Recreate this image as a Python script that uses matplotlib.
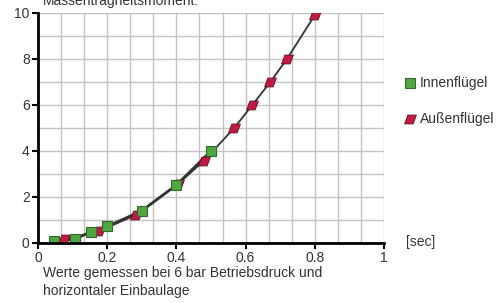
import matplotlib
matplotlib.use("Agg")
import matplotlib.pyplot as plt
import numpy as np
from matplotlib.path import Path

plt.rcParams['font.family'] = ['Liberation Sans', 'DejaVu Sans']

# data
inner_x = [0.046, 0.107, 0.153, 0.20, 0.30, 0.40, 0.50]
inner_y = [0.10, 0.17, 0.49, 0.72, 1.40, 2.52, 4.00]
outer_x = [0.075, 0.177, 0.283, 0.404, 0.48, 0.567, 0.619, 0.671, 0.72, 0.80]
outer_y = [0.16, 0.52, 1.22, 2.56, 3.58, 5.00, 5.99, 6.99, 8.01, 9.91]
x_ticks = [0, 0.2, 0.4, 0.6, 0.8, 1]
x_ticklabels = ["0", "0.2", "0.4", "0.6", "0.8", "1"]
y_ticks = [0, 2, 4, 6, 8, 10]
series_names = ["Innenflügel", "Außenflügel"]

green = "#52a641"
green_edge = "#2f6b2b"
red = "#c21a42"
red_edge = "#5a1020"
txt = "#333333"

para = Path([(-1.0, -0.75), (0.45, -0.75), (1.0, 0.75), (-0.45, 0.75), (-1.0, -0.75)],
            [Path.MOVETO, Path.LINETO, Path.LINETO, Path.LINETO, Path.CLOSEPOLY])

fig = plt.figure(figsize=(4.98, 3.03), dpi=100)
ax = fig.add_axes([38/498, 60/303, (384-38)/498, (243-13)/303])

ax.set_xlim(0, 1)
ax.set_ylim(0, 10)
ax.set_xticks(x_ticks)
ax.set_xticklabels(x_ticklabels)
ax.set_yticks(y_ticks)
ax.set_xticks(np.arange(0, 1.0001, 1/15), minor=True)
ax.set_yticks(np.arange(0, 10.001, 1), minor=True)
ax.grid(which='both', color='#c4c4c4', linewidth=1.0)
ax.set_axisbelow(True)
ax.tick_params(which='minor', length=0)
ax.tick_params(which='major', direction='out', length=4, width=1.5, color='black',
               labelsize=10, labelcolor=txt, pad=2)

for s in ['top', 'right']:
    ax.spines[s].set_visible(False)
ax.spines['left'].set_linewidth(2)
ax.spines['bottom'].set_linewidth(2)

ax.plot(inner_x, inner_y, color='#333333', linewidth=2.0, zorder=3)
ax.plot(outer_x, outer_y, color='#333333', linewidth=1.3, zorder=3)
ax.plot(outer_x, outer_y, linestyle='none', marker=para, markersize=8.5,
        markerfacecolor=red, markeredgecolor=red_edge, markeredgewidth=0.6, zorder=4)
ax.plot(inner_x, inner_y, linestyle='none', marker='s', markersize=7.5,
        markerfacecolor=green, markeredgecolor=green_edge, markeredgewidth=0.8, zorder=5)
for sp in ax.spines.values():
    sp.set_zorder(6)

# legend (manual)
lx = 410/498
fig.add_artist(plt.Line2D([lx], [1-83/303], marker='s', markersize=6.5,
                          markerfacecolor=green, markeredgecolor=green_edge,
                          markeredgewidth=0.8, transform=fig.transFigure))
fig.add_artist(plt.Line2D([lx], [1-119/303], marker=para, markersize=8.5,
                          markerfacecolor=red, markeredgecolor=red_edge,
                          markeredgewidth=0.6, transform=fig.transFigure))
fig.text(420/498, 1-83/303, series_names[0], fontsize=10, color=txt, va='center', ha='left')
fig.text(420/498, 1-119/303, series_names[1], fontsize=10, color=txt, va='center', ha='left')

fig.text(406/498, 1-242/303, "[sec]", fontsize=10, color=txt, va='center', ha='left')
fig.text(43/498, 1-1/303, "Massenträgheitsmoment:", fontsize=10, color=txt, va='center', ha='left')
fig.text(43/498, 1-273/303, "Werte gemessen bei 6 bar Betriebsdruck und", fontsize=10,
         color=txt, va='center', ha='left')
fig.text(43/498, 1-291/303, "horizontaler Einbaulage", fontsize=10,
         color=txt, va='center', ha='left')

fig.savefig("out.png", dpi=100)
